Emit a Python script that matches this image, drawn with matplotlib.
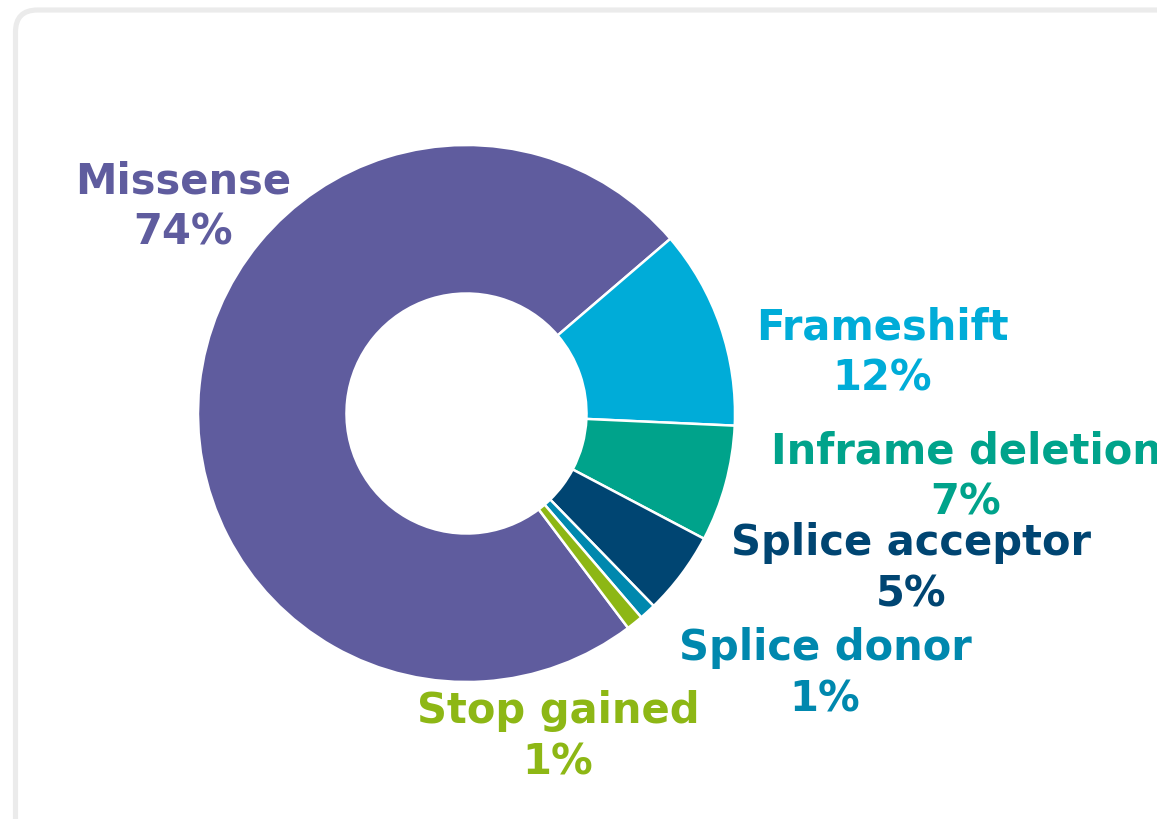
import matplotlib
matplotlib.use("Agg")
import matplotlib.pyplot as plt
from matplotlib.patches import FancyBboxPatch

# Variant consequence breakdown
categories = ["Missense", "Frameshift", "Inframe deletion", "Splice acceptor",
              "Splice donor", "Stop gained"]
shares = [74, 12, 7, 5, 1, 1]
colors = ["#5f5c9e", "#00acd8", "#00a38b", "#004572", "#0088ae", "#8db715"]

# Label anchor points (pixel coordinates, origin at top-left)
label_pos = [(183, 207), (882, 353), (966, 477), (911, 569), (825, 674), (558, 737)]

W, H = 1157, 819
fig = plt.figure(figsize=(W / 100, H / 100), dpi=100)
ax = fig.add_axes([0, 0, 1, 1])
ax.set_xlim(0, W)
ax.set_ylim(0, H)
ax.axis("off")

# Rounded card outline
card = FancyBboxPatch((15.5, -200), 1400, H - 10 + 200,
                      boxstyle="round,pad=0,rounding_size=22",
                      facecolor="white", edgecolor="#ebebeb", linewidth=3.7,
                      zorder=0)
ax.add_patch(card)

cx, cy = 466.5, H - 413.5
outer_r = 268.5
ring_w = 148.5

ax.pie(shares, colors=colors, startangle=-53.0, counterclock=False,
       center=(cx, cy), radius=outer_r,
       wedgeprops=dict(width=ring_w, edgecolor="white", linewidth=1.8),
       frame=True)
ax.set_xlim(0, W)
ax.set_ylim(0, H)
ax.set_aspect("auto")
ax.axis("off")

for name, val, col, (px, py) in zip(categories, shares, colors, label_pos):
    ax.text(px, H - py, f"{name}\n{val}%", color=col, fontsize=30,
            fontweight="bold", family="DejaVu Sans", ha="center", va="center",
            multialignment="center", linespacing=1.3, zorder=5)

fig.savefig("out.png", dpi=100)
